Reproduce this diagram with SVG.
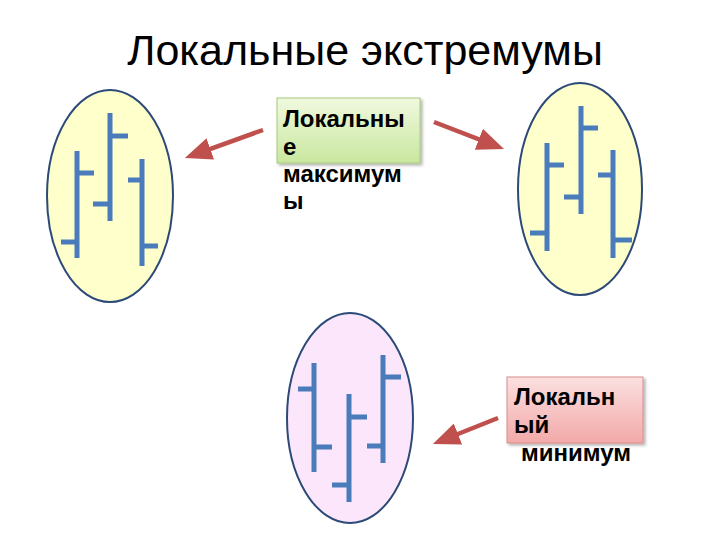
<svg xmlns="http://www.w3.org/2000/svg" width="720" height="540" viewBox="0 0 720 540">
<defs>
<linearGradient id="gGreen" x1="0" y1="0" x2="0" y2="1"><stop offset="0" stop-color="#F0F9DF"/><stop offset="1" stop-color="#C9E79F"/></linearGradient>
<linearGradient id="gPink" x1="0" y1="0" x2="0" y2="1"><stop offset="0" stop-color="#FBE0E0"/><stop offset="1" stop-color="#F3A9A9"/></linearGradient>
<marker id="ah" viewBox="0 0 10 10" refX="7" refY="5" markerWidth="6" markerHeight="5" preserveAspectRatio="none" orient="auto" markerUnits="strokeWidth"><path d="M0,0 L10,5 L0,10 Z" fill="#C0504D"/></marker>
<filter id="sh" x="-10%" y="-10%" width="130%" height="130%"><feDropShadow dx="2" dy="2" stdDeviation="1.5" flood-color="#000" flood-opacity="0.3"/></filter>
</defs>
<style>
.ov{stroke:#2C4A78;stroke-width:2}
.bar{stroke:#4A7BBA;stroke-width:5;fill:none}
.lbl{font-family:"Liberation Sans",Arial,sans-serif;font-weight:bold;font-size:24px;fill:#000}
.conn{stroke:#C0504D;stroke-width:4.5;fill:none}
</style>
<rect width="720" height="540" fill="#fff"/>
<text x="365" y="65" text-anchor="middle" font-family="Liberation Sans,Arial,sans-serif" font-size="43" fill="#000">Локальные экстремумы</text>
<g id="oval-left">
<ellipse class="ov" cx="110" cy="196" rx="63" ry="106" fill="#FFFFCC"/>
<path class="bar" d="M77,151V258M77,173H94M61,242H77M110,113V221M110,136H128M93,204H110M142,159V266M128,180H142M142,246H158"/>
</g>
<g id="oval-right">
<ellipse class="ov" cx="580" cy="189" rx="62" ry="106" fill="#FFFFCC"/>
<path class="bar" d="M547,143V251M547,165H564M530,233H547M581,106V214M581,128H598M564,197H581M613,150V258M598,175H613M613,240H632"/>
</g>
<g id="oval-bottom">
<ellipse class="ov" cx="350" cy="418" rx="63" ry="105" fill="#FCE6FB"/>
<path class="bar" d="M314,363V472M298,389H314M314,447H332M349,394V502M349,417H367M332,485H349M383,355V463M383,377H401M367,446H383"/>
</g>
<g id="label-max">
<rect x="277" y="98" width="143" height="65" fill="url(#gGreen)" stroke="#A6C97A" stroke-width="1" filter="url(#sh)"/>
<text class="lbl" x="283" y="127">Локальны</text>
<text class="lbl" x="283" y="155">е</text>
<text class="lbl" x="283" y="182">максимум</text>
<text class="lbl" x="283" y="209">ы</text>
</g>
<g id="label-min">
<rect x="507" y="377" width="136" height="66" fill="url(#gPink)" stroke="#D98C8C" stroke-width="1" filter="url(#sh)"/>
<text class="lbl" x="514" y="405">Локальн</text>
<text class="lbl" x="514" y="433">ый</text>
<text class="lbl" x="521" y="461">минимум</text>
</g>
<g id="connectors">
<line class="conn" x1="263" y1="130" x2="192.5" y2="155.3" marker-end="url(#ah)"/>
<line class="conn" x1="434" y1="122" x2="496.5" y2="146.1" marker-end="url(#ah)"/>
<line class="conn" x1="498" y1="418" x2="440.4" y2="441" marker-end="url(#ah)"/>
</g>
</svg>
